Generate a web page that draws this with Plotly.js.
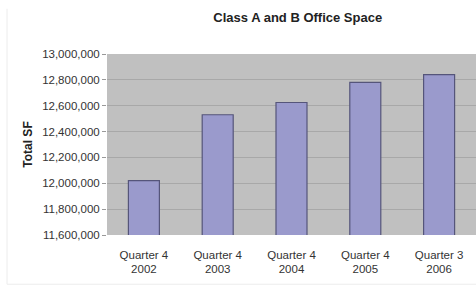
<!DOCTYPE html>
<html>
<head>
<meta charset="utf-8">
<script src="https://cdn.plot.ly/plotly-3.0.1.min.js"></script>
<style>html,body{margin:0;padding:0;background:#fff;}#chart{width:476px;height:287px;}</style>
</head>
<body>
<div id="chart"></div>
<script>
const categories = ["Quarter 4<br>2002", "Quarter 4<br>2003", "Quarter 4<br>2004", "Quarter 4<br>2005", "Quarter 3<br>2006"];
const totalSF = [12020000, 12530000, 12625000, 12780000, 12840000];
const yTicks = [11600000, 11800000, 12000000, 12200000, 12400000, 12600000, 12800000, 13000000];
const yTickLabels = ["11,600,000", "11,800,000", "12,000,000", "12,200,000", "12,400,000", "12,600,000", "12,800,000", "13,000,000"];

const trace = {
  type: "bar",
  x: categories,
  y: totalSF,
  width: 0.42,
  marker: {color: "#9a9acc", line: {color: "#55557a", width: 1.2}},
  hoverinfo: "x+y"
};

const layout = {
  width: 476, height: 287,
  margin: {l: 107, r: 0, t: 54, b: 52},
  paper_bgcolor: "#ffffff",
  plot_bgcolor: "#c0c0c0",
  showlegend: false,
  font: {family: "Liberation Sans, Arial, sans-serif", color: "#333333"},
  title: {
    text: "<b>Class A and B Office Space</b>",
    font: {size: 13, color: "#222222", family: "Liberation Sans, Arial, sans-serif"},
    x: 0.517, xanchor: "center", xref: "paper",
    y: 0.94, yanchor: "middle", yref: "container"
  },
  xaxis: {
    type: "category",
    tickfont: {size: 11.5, color: "#333333"},
    showgrid: false,
    showline: false,
    ticks: "",
    ticklabelstandoff: 11,
    range: [-0.5, 4.5],
    fixedrange: true
  },
  yaxis: {
    range: [11600000, 13000000],
    tickvals: yTicks,
    ticktext: yTickLabels,
    tickfont: {size: 11.5, color: "#333333"},
    showgrid: true,
    gridcolor: "#a8a8a8",
    gridwidth: 1,
    zeroline: false,
    showline: false,
    ticks: "outside",
    ticklen: 4,
    tickcolor: "#999999",
    title: {text: "<b>Total SF</b>", font: {size: 12, color: "#222222"}, standoff: 6},
    fixedrange: true
  },
  shapes: [
    {type: "line", xref: "paper", yref: "paper", x0: -0.271, x1: -0.271, y0: -0.272, y1: 1.25, line: {color: "#ececec", width: 1}},
    {type: "line", xref: "paper", yref: "paper", x0: -0.271, x1: 1.01, y0: -0.272, y1: -0.272, line: {color: "#ececec", width: 1}}
  ]
};

Plotly.newPlot("chart", [trace], layout, {displayModeBar: false, staticPlot: true});
</script>
</body>
</html>
